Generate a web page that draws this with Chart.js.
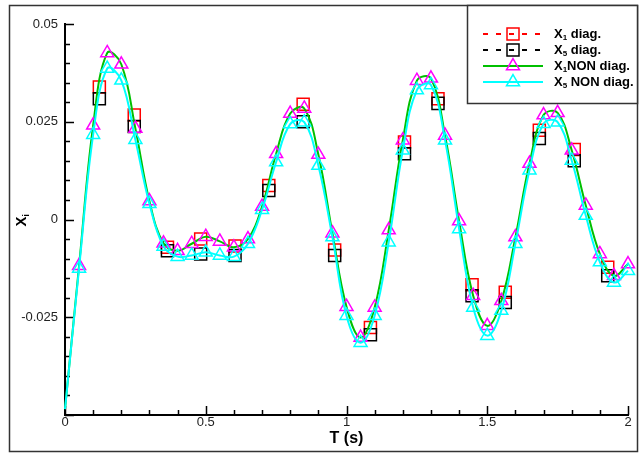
<!DOCTYPE html>
<html>
<head>
<meta charset="utf-8">
<script src="https://cdn.jsdelivr.net/npm/chart.js@4/dist/chart.umd.min.js"></script>
<style>
  html, body { margin: 0; padding: 0; background: #fff; }
  canvas { display: block; }
</style>
</head>
<body>
<canvas id="myChart" width="642" height="456"></canvas>
<script>
// Temps des echantillons NON diag (triangles)
const tNon = [0, 0.05, 0.10, 0.15, 0.20, 0.25, 0.30, 0.35, 0.40, 0.45,
  0.50, 0.55, 0.60, 0.65, 0.70, 0.75, 0.80, 0.85, 0.90, 0.95,
  1.00, 1.05, 1.10, 1.15, 1.20, 1.25, 1.30, 1.35, 1.40, 1.45,
  1.50, 1.55, 1.60, 1.65, 1.70, 1.75, 1.80, 1.85, 1.90, 1.95, 2.00];
const x1Non = [-0.0485, -0.0118, 0.0241, 0.0426, 0.0397, 0.0233, 0.0047, -0.0061, -0.0080, -0.0062,
  -0.0044, -0.0056, -0.0071, -0.0050, 0.0033, 0.0168, 0.0271, 0.0284, 0.0166, -0.0035,
  -0.0223, -0.0302, -0.0225, -0.0027, 0.0203, 0.0355, 0.0361, 0.0215, -0.0004, -0.0195,
  -0.0272, -0.0208, -0.0045, 0.0143, 0.0267, 0.0273, 0.0177, 0.0036, -0.0088, -0.0144, -0.0114];
const x5Non = [-0.0485, -0.0125, 0.0217, 0.0386, 0.0356, 0.0204, 0.0040, -0.0069, -0.0095, -0.0092,
  -0.0084, -0.0092, -0.0095, -0.0062, 0.0025, 0.0147, 0.0244, 0.0249, 0.0138, -0.0045,
  -0.0246, -0.0315, -0.0246, -0.0058, 0.0177, 0.0331, 0.0344, 0.0203, -0.0024, -0.0225,
  -0.0297, -0.0233, -0.0062, 0.0126, 0.0245, 0.0249, 0.0151, 0.0010, -0.0109, -0.0161, -0.0131];

// Temps des echantillons diag (carres)
const tDiag = [0.122, 0.246, 0.364, 0.482, 0.604, 0.724, 0.846, 0.958,
  1.085, 1.206, 1.325, 1.446, 1.564, 1.685, 1.809, 1.928];
const x1Diag = [0.0339, 0.0267, -0.0071, -0.0050, -0.0068, 0.0087, 0.0295, -0.0078,
  -0.0276, 0.0198, 0.0309, -0.0167, -0.0186, 0.0228, 0.0179, -0.0122];
const x5Diag = [0.0309, 0.0238, -0.0080, -0.0088, -0.0092, 0.0074, 0.0250, -0.0092,
  -0.0295, 0.0168, 0.0297, -0.0195, -0.0212, 0.0207, 0.0150, -0.0144];

const xTicks = [0, 0.5, 1, 1.5, 2];
const yTicks = [0.05, 0.025, 0, -0.025];

const pts = (ts, vs) => ts.map((t, i) => ({ x: t, y: vs[i] }));

const GREEN = '#00c000', CYAN = '#00ffff', MAGENTA = '#ff00ff', RED = '#ff0000';
const FONT = '"Liberation Sans", Arial, sans-serif';

// Ticks vers l'interieur, titres, cadre et legende
const decor = {
  id: 'decor',
  beforeDatasetsDraw(chart) {
    const { ctx, chartArea: a, scales: { x, y } } = chart;
    ctx.save();
    ctx.strokeStyle = '#000';
    ctx.lineWidth = 1.5;
    ctx.beginPath();
    for (let i = 0; i <= 20; i++) {
      const px = Math.round(x.getPixelForValue(i * 0.1)) + 0.5;
      const len = i % 5 === 0 ? 9 : 5;
      ctx.moveTo(px, a.bottom);
      ctx.lineTo(px, a.bottom - len);
    }
    for (let i = 0; i <= 20; i++) {
      const py = Math.round(y.getPixelForValue(-0.05 + i * 0.005)) + 0.5;
      const len = i % 5 === 0 ? 9 : 5;
      ctx.moveTo(a.left, py);
      ctx.lineTo(a.left + len, py);
    }
    ctx.stroke();
    ctx.restore();
  },
  afterDraw(chart) {
    const { ctx, chartArea: a } = chart;
    ctx.save();
    // cadre exterieur
    ctx.strokeStyle = '#333';
    ctx.lineWidth = 1.5;
    ctx.strokeRect(9.5, 5.5, 628, 446);

    // titre axe x
    ctx.fillStyle = '#000';
    ctx.font = 'bold 16px ' + FONT;
    ctx.textAlign = 'center';
    ctx.textBaseline = 'middle';
    ctx.fillText('T (s)', (a.left + a.right) / 2, 439);

    // titre axe y : X indice i
    ctx.save();
    ctx.translate(21, (a.top + a.bottom) / 2);
    ctx.rotate(-Math.PI / 2);
    ctx.textAlign = 'left';
    ctx.textBaseline = 'alphabetic';
    ctx.font = 'bold 15px ' + FONT;
    const wX = ctx.measureText('X').width;
    ctx.fillText('X', -(wX + 4) / 2, 5);
    ctx.font = 'bold 9px ' + FONT;
    ctx.fillText('i', -(wX + 4) / 2 + wX, 8);
    ctx.restore();

    // legende
    const L = 467.5, T = 5.5, R = 637.5, B = 103.5;
    ctx.fillStyle = '#fff';
    ctx.fillRect(L, T, R - L, B - T);
    ctx.strokeStyle = '#333';
    ctx.lineWidth = 1.5;
    ctx.strokeRect(L, T, R - L, B - T);

    const rows = [
      { color: RED, dash: [5, 8], mark: 'rect', mcolor: RED, sub: '1', rest: ' diag.' },
      { color: '#000', dash: [5, 8], mark: 'rect', mcolor: '#000', sub: '5', rest: ' diag.' },
      { color: GREEN, dash: [], mark: 'tri', mcolor: MAGENTA, sub: '1', rest: 'NON diag.' },
      { color: CYAN, dash: [], mark: 'tri', mcolor: CYAN, sub: '5', rest: ' NON diag.' }
    ];
    rows.forEach((r, i) => {
      const cy = 34 + i * 16;
      ctx.strokeStyle = r.color;
      ctx.lineWidth = 2;
      ctx.setLineDash(r.dash);
      ctx.beginPath();
      ctx.moveTo(483, cy);
      ctx.lineTo(543, cy);
      ctx.stroke();
      ctx.setLineDash([]);
      ctx.strokeStyle = r.mcolor;
      ctx.lineWidth = 1.5;
      ctx.beginPath();
      if (r.mark === 'rect') {
        ctx.rect(507, cy - 6, 12, 12);
      } else {
        const rr = 7.5;
        for (let k = 0; k < 3; k++) {
          const ang = k * 2 * Math.PI / 3;
          const px = 513 + Math.sin(ang) * rr, py = cy - Math.cos(ang) * rr;
          k === 0 ? ctx.moveTo(px, py) : ctx.lineTo(px, py);
        }
        ctx.closePath();
      }
      ctx.stroke();

      ctx.fillStyle = '#000';
      ctx.textAlign = 'left';
      ctx.textBaseline = 'middle';
      ctx.font = 'bold 13px ' + FONT;
      let tx = 554;
      ctx.fillText('X', tx, cy);
      tx += ctx.measureText('X').width;
      ctx.font = 'bold 8px ' + FONT;
      ctx.fillText(r.sub, tx, cy + 4);
      tx += ctx.measureText(r.sub).width;
      ctx.font = 'bold 13px ' + FONT;
      ctx.fillText(r.rest, tx, cy);
    });
    ctx.restore();
  }
};

const ctx = document.getElementById('myChart').getContext('2d');
const myChart = new Chart(ctx, {
  type: 'line',
  data: {
    datasets: [
      {
        label: 'X5 NON diag.',
        data: pts(tNon, x5Non),
        borderColor: CYAN,
        borderWidth: 2,
        tension: 0.4,
        pointStyle: 'triangle',
        pointRadius: c => c.dataIndex === 0 ? 0 : 7.5,
        pointBorderColor: CYAN,
        pointBackgroundColor: 'rgba(0,0,0,0)',
        pointBorderWidth: 1.5,
        clip: false,
        order: 1
      },
      {
        label: 'X1 NON diag.',
        data: pts(tNon, x1Non),
        borderColor: GREEN,
        borderWidth: 2,
        tension: 0.4,
        pointStyle: 'triangle',
        pointRadius: c => c.dataIndex === 0 ? 0 : 7.5,
        pointBorderColor: MAGENTA,
        pointBackgroundColor: 'rgba(0,0,0,0)',
        pointBorderWidth: 1.5,
        clip: false,
        order: 2
      },
      {
        label: 'X5 diag.',
        data: pts(tDiag, x5Diag),
        showLine: false,
        pointStyle: 'rect',
        pointRadius: 8.5,
        pointBorderColor: '#000',
        pointBackgroundColor: 'rgba(0,0,0,0)',
        pointBorderWidth: 1.5,
        clip: false,
        order: 3
      },
      {
        label: 'X1 diag.',
        data: pts(tDiag, x1Diag),
        showLine: false,
        pointStyle: 'rect',
        pointRadius: 8.5,
        pointBorderColor: RED,
        pointBackgroundColor: 'rgba(0,0,0,0)',
        pointBorderWidth: 1.5,
        clip: false,
        order: 4
      }
    ]
  },
  options: {
    responsive: false,
    animation: false,
    layout: { padding: { left: 0, right: 14, top: 24, bottom: 0 } },
    plugins: { legend: { display: false }, tooltip: { enabled: false } },
    scales: {
      x: {
        type: 'linear',
        min: 0,
        max: 2,
        grid: { display: false, drawTicks: false },
        border: { display: true, color: '#000', width: 2 },
        afterBuildTicks: s => { s.ticks = xTicks.map(v => ({ value: v })); },
        ticks: {
          padding: 0,
          maxRotation: 0,
          color: '#222',
          font: { family: FONT, size: 13 },
          callback: v => String(+(+v).toFixed(1))
        },
        afterFit: s => { s.height = 41; }
      },
      y: {
        min: -0.05,
        max: 0.05,
        grid: { display: false, drawTicks: false },
        border: { display: true, color: '#000', width: 2 },
        afterBuildTicks: s => { s.ticks = yTicks.map(v => ({ value: v })); },
        ticks: {
          padding: 7,
          color: '#222',
          font: { family: FONT, size: 13 },
          callback: v => String(+(+v).toFixed(3))
        },
        afterFit: s => { s.width = 65; }
      }
    }
  },
  plugins: [decor]
});
</script>
</body>
</html>
